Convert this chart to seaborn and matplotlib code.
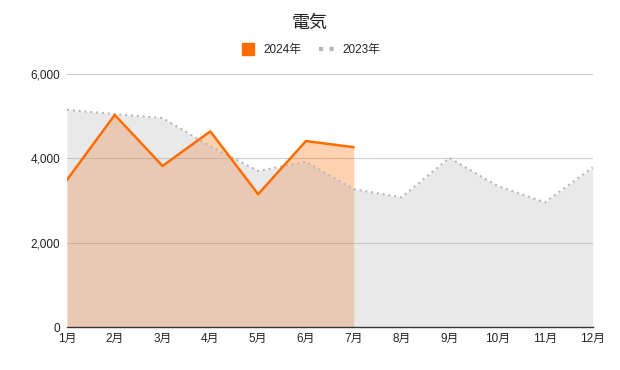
import matplotlib
matplotlib.use("Agg")
import matplotlib.pyplot as plt
import seaborn as sns
import pandas as pd
from matplotlib.lines import Line2D
from matplotlib.ticker import FuncFormatter

months = ["1月", "2月", "3月", "4月", "5月", "6月", "7月", "8月", "9月", "10月", "11月", "12月"]
values_2024 = [3490, 5030, 3820, 4640, 3150, 4410, 4265]
values_2023 = [5150, 5050, 4955, 4285, 3700, 3920, 3270, 3075, 4010, 3350, 2955, 3785]
title = "電気"
series_names = ["2024年", "2023年"]

sns.set_theme(style="white")
plt.rcParams['font.family'] = ['Liberation Sans', 'Noto Sans CJK JP', 'DejaVu Sans']

c24 = "#FF6D01"
c23 = "#B7B7B7"

df23 = pd.DataFrame({"x": range(len(values_2023)), "y": values_2023})
df24 = pd.DataFrame({"x": range(len(values_2024)), "y": values_2024})

fig = plt.figure(figsize=(6.2, 3.7), dpi=100)
ax = fig.add_axes([0.108, 0.116, 0.848, 0.684])

ax.fill_between(df24["x"], 0, df24["y"], color=c24, alpha=0.3, linewidth=0, zorder=1)
ax.fill_between(df23["x"], 0, df23["y"], color=c23, alpha=0.3, linewidth=0, zorder=2)
sns.lineplot(data=df23, x="x", y="y", ax=ax, color=c23, linewidth=1.5, linestyle=(0, (1, 1.8)), zorder=3)
sns.lineplot(data=df24, x="x", y="y", ax=ax, color=c24, linewidth=1.8, zorder=4)

ax.set_xlim(0, 11)
ax.set_ylim(0, 6000)
ax.set_xticks(range(12))
ax.set_xticklabels(months)
ax.set_yticks([0, 2000, 4000, 6000])
ax.yaxis.set_major_formatter(FuncFormatter(lambda v, p: f"{int(v):,}"))
ax.set_xlabel("")
ax.set_ylabel("")
for v in [2000, 4000, 6000]:
    ax.axhline(v, color="#CCCCCC", linewidth=0.8, zorder=0)
for s in ["top", "right", "left"]:
    ax.spines[s].set_visible(False)
ax.spines["bottom"].set_color("#333333")
ax.spines["bottom"].set_linewidth(1)
ax.tick_params(axis="both", labelsize=8.5, colors="#222222", length=0)
ax.tick_params(axis="x", pad=4)
ax.tick_params(axis="y", pad=5)

fig.text(0.5, 0.938, title, ha="center", va="center", fontsize=13, color="#222222")
handles = [
    Line2D([0], [0], marker="s", color="none", markerfacecolor=c24, markeredgecolor=c24, markersize=8),
    Line2D([0], [0], color=c23, linewidth=3, linestyle=(0, (1, 1.5))),
]
fig.legend(handles, series_names, loc="center", bbox_to_anchor=(0.5, 0.865), ncol=2, frameon=False,
           fontsize=8.5, handlelength=1.5, columnspacing=1.5, handletextpad=0.5)

fig.savefig("out.png", dpi=100, facecolor="white")
